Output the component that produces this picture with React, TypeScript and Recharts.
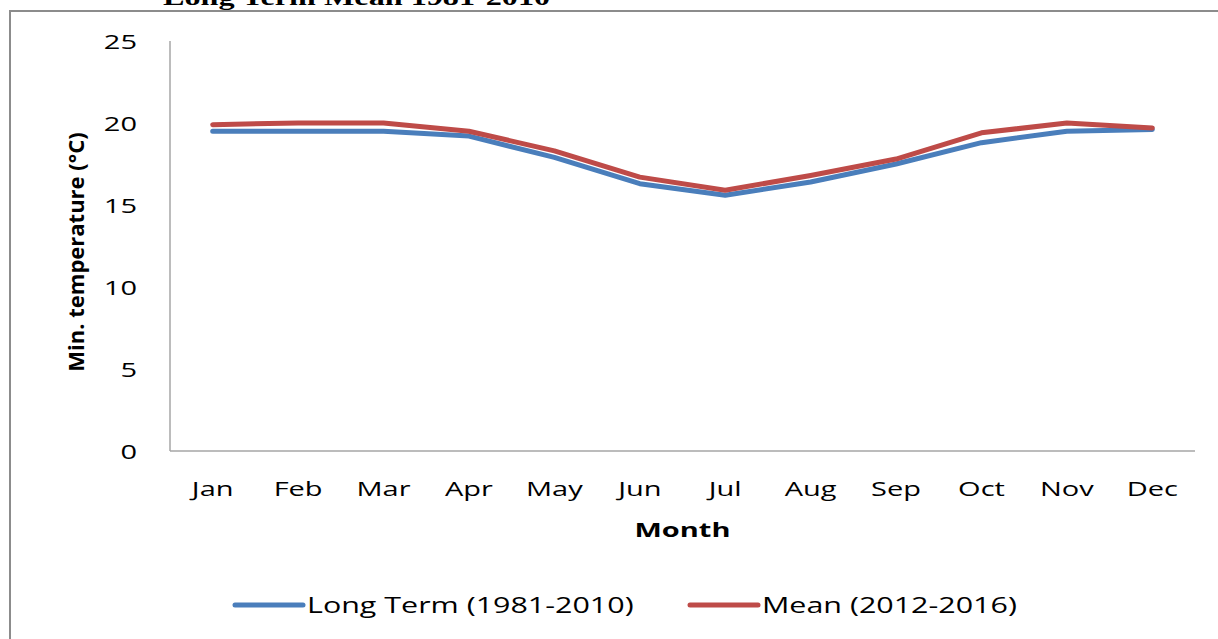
import { LineChart, Line, XAxis, YAxis, Legend } from 'recharts';

const months = ['Jan', 'Feb', 'Mar', 'Apr', 'May', 'Jun', 'Jul', 'Aug', 'Sep', 'Oct', 'Nov', 'Dec'];
const longTerm = [19.5, 19.5, 19.5, 19.2, 17.9, 16.3, 15.6, 16.4, 17.5, 18.8, 19.5, 19.6];
const recentMean = [19.9, 20.0, 20.0, 19.5, 18.3, 16.7, 15.9, 16.8, 17.8, 19.4, 20.0, 19.7];
const yTicks = [0, 5, 10, 15, 20, 25];

const SERIES = [
  { key: 'longTerm', name: 'Long Term (1981-2010)', color: '#4A7EBB' },
  { key: 'recentMean', name: 'Mean (2012-2016)', color: '#BE4B48' },
];

const chartData = months.map((m, i) => ({
  month: m,
  longTerm: longTerm[i],
  recentMean: recentMean[i],
}));

const FONT = '"Open Sans", sans-serif';
const STRETCH = 1.45;

function XTick({ x, y, payload }: any) {
  return (
    <text
      transform={`translate(${x},${y}) scale(${STRETCH},1)`}
      textAnchor="middle"
      dominantBaseline="central"
      fontFamily={FONT}
      fontSize={20}
      fill="#000"
    >
      {payload.value}
    </text>
  );
}

function YTick({ x, y, payload }: any) {
  return (
    <text
      transform={`translate(${x},${y}) scale(${STRETCH},1)`}
      textAnchor="end"
      dominantBaseline="central"
      fontFamily={FONT}
      fontSize={20}
      fill="#000"
    >
      {payload.value}
    </text>
  );
}

function XLabel({ viewBox }: any) {
  const cx = viewBox.x + viewBox.width / 2;
  return (
    <text
      transform={`translate(${cx},${viewBox.y + 78}) scale(${STRETCH},1)`}
      textAnchor="middle"
      dominantBaseline="central"
      fontFamily={FONT}
      fontWeight="bold"
      fontSize={20}
      fill="#000"
    >
      Month
    </text>
  );
}

function YLabel({ viewBox }: any) {
  const cy = viewBox.y + viewBox.height / 2;
  return (
    <text
      transform={`translate(${viewBox.x + 75},${cy + 6}) rotate(-90)`}
      textAnchor="middle"
      dominantBaseline="central"
      fontFamily={FONT}
      fontWeight="bold"
      fontSize={22}
      fill="#000"
    >
      Min. temperature (°C)
    </text>
  );
}

function LegendBox({ payload }: any) {
  return (
    <svg width={1218} height={88} style={{ display: 'block' }}>
      {(payload || []).map((p: any, i: number) => {
        const x0 = 235 + i * 455;
        return (
          <g key={p.value}>
            <line x1={x0} y1={54} x2={x0 + 68} y2={54} stroke={p.color} strokeWidth={5} strokeLinecap="round" />
            <text
              transform={`translate(${x0 + 72},${54}) scale(${STRETCH},1)`}
              dominantBaseline="central"
              fontFamily={FONT}
              fontSize={21}
              fill="#000"
            >
              {p.value}
            </text>
          </g>
        );
      })}
    </svg>
  );
}

export default function App() {
  return (
    <div style={{ position: 'absolute', left: 0, top: 0, width: 1218, height: 639, overflow: 'hidden', background: '#fff' }}>
      <div
        style={{
          position: 'absolute',
          left: 9,
          top: 10,
          width: 1400,
          height: 800,
          borderTop: '2px solid #8c8c8c',
          borderLeft: '2px solid #8c8c8c',
        }}
      />
      <svg width={1218} height={20} style={{ position: 'absolute', left: 0, top: 0 }}>
        <text
          transform={`translate(163,5) scale(1.4,1)`}
          fontFamily='"Liberation Serif", serif'
          fontWeight="bold"
          fontSize={23}
          fill="#000"
        >
          Long Term Mean 1981-2010
        </text>
      </svg>
      <div style={{ position: 'absolute', left: 0, top: 0 }}>
        <LineChart width={1218} height={639} data={chartData} margin={{ top: 41, right: 23, left: 0, bottom: 0 }}>
          <XAxis
            dataKey="month"
            height={100}
            padding={{ left: 42.7, right: 42.7 }}
            tickLine={false}
            tickSize={0}
            tickMargin={37}
            axisLine={{ stroke: '#a6a6a6', strokeWidth: 1.5 }}
            tick={<XTick />}
            interval={0}
            label={<XLabel />}
          />
          <YAxis
            width={170}
            domain={[0, 25]}
            ticks={yTicks}
            tickLine={false}
            tickSize={0}
            tickMargin={33}
            axisLine={{ stroke: '#a6a6a6', strokeWidth: 1.5 }}
            tick={<YTick />}
            label={<YLabel />}
          />
          <Legend
            verticalAlign="bottom"
            content={<LegendBox />}
            wrapperStyle={{ left: 0, bottom: 0, width: 1218 }}
          />
          {SERIES.map((s) => (
            <Line
              key={s.key}
              type="linear"
              dataKey={s.key}
              name={s.name}
              stroke={s.color}
              strokeWidth={5}
              strokeLinecap="round"
              strokeLinejoin="round"
              dot={false}
              activeDot={false}
              isAnimationActive={false}
            />
          ))}
        </LineChart>
      </div>
    </div>
  );
}
